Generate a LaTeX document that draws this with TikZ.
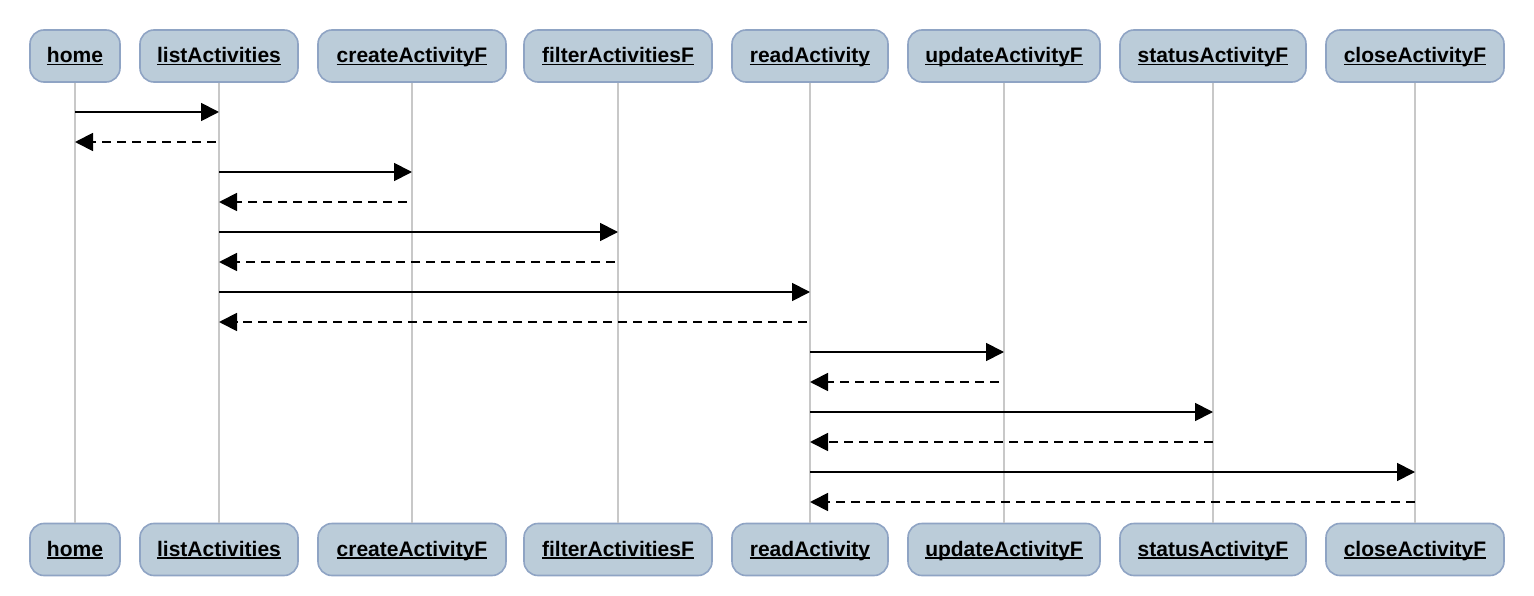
\documentclass[tikz,border=0pt]{standalone}
\usepackage{fontspec}
\setmainfont{Liberation Sans}
\usetikzlibrary{arrows.meta}
\definecolor{boxfill}{HTML}{BBCCD9}
\definecolor{boxline}{HTML}{8FA4C4}
\definecolor{lifegray}{HTML}{C8C8C8}
\tikzset{
  part/.style={draw=boxline, fill=boxfill, line width=1.6pt, rounded corners=14pt,
    minimum height=52pt, inner sep=0pt, text height=16pt, text depth=3pt,
    font=\fontsize{21}{24}\selectfont\bfseries},
  life/.style={draw=lifegray, line width=1.8pt},
  msg/.style={line width=1.8pt, -{Triangle[length=18pt,width=18pt]}},
  ret/.style={msg, dash pattern=on 9pt off 6pt},
}
\newcommand{\ul}[1]{\setbox0\hbox{#1}\rlap{\rule[-2.6pt]{\wd0}{1.5pt}}\box0}
\begin{document}
\begin{tikzpicture}[x=1pt,y=-1pt]
\useasboundingbox[fill=white] (0,0) rectangle (1534,596);
\foreach \n/\x/\w/\t in {A/75/90/home, B/219/158/listActivities, C/412/188/createActivityF,
  D/618/188/filterActivitiesF, E/810/156/readActivity, F/1004/192/updateActivityF,
  G/1213/186/statusActivityF, H/1415/178/closeActivityF}{
  \node[part, minimum width=\w] (t\n) at (\x,56) {\ul{\t}};
  \node[part, minimum width=\w] (b\n) at (\x,549.5) {\ul{\t}};
}
\foreach \n in {A,B,C,D,E,F,G,H}{
  \draw[life] (t\n.south) -- (b\n.north);
}
\foreach \i/\y in {1/112,2/142,3/172,4/202,5/232,6/262,7/292,8/322,9/352,10/382,11/412,12/442,13/472,14/502}{
  \coordinate (r\i) at (0,\y);
}
\draw[msg] (tA |- r1) -- (tB |- r1);
\draw[ret] ([xshift=-3pt]tB |- r2) -- (tA |- r2);
\draw[msg] (tB |- r3) -- (tC |- r3);
\draw[ret] ([xshift=-5pt]tC |- r4) -- (tB |- r4);
\draw[msg] (tB |- r5) -- (tD |- r5);
\draw[ret] ([xshift=-3pt]tD |- r6) -- (tB |- r6);
\draw[msg] (tB |- r7) -- (tE |- r7);
\draw[ret] ([xshift=-3pt]tE |- r8) -- (tB |- r8);
\draw[msg] (tE |- r9) -- (tF |- r9);
\draw[ret] ([xshift=-5pt]tF |- r10) -- (tE |- r10);
\draw[msg] (tE |- r11) -- (tG |- r11);
\draw[ret] (tG |- r12) -- (tE |- r12);
\draw[msg] (tE |- r13) -- (tH |- r13);
\draw[ret] (tH |- r14) -- (tE |- r14);
\end{tikzpicture}
\end{document}
